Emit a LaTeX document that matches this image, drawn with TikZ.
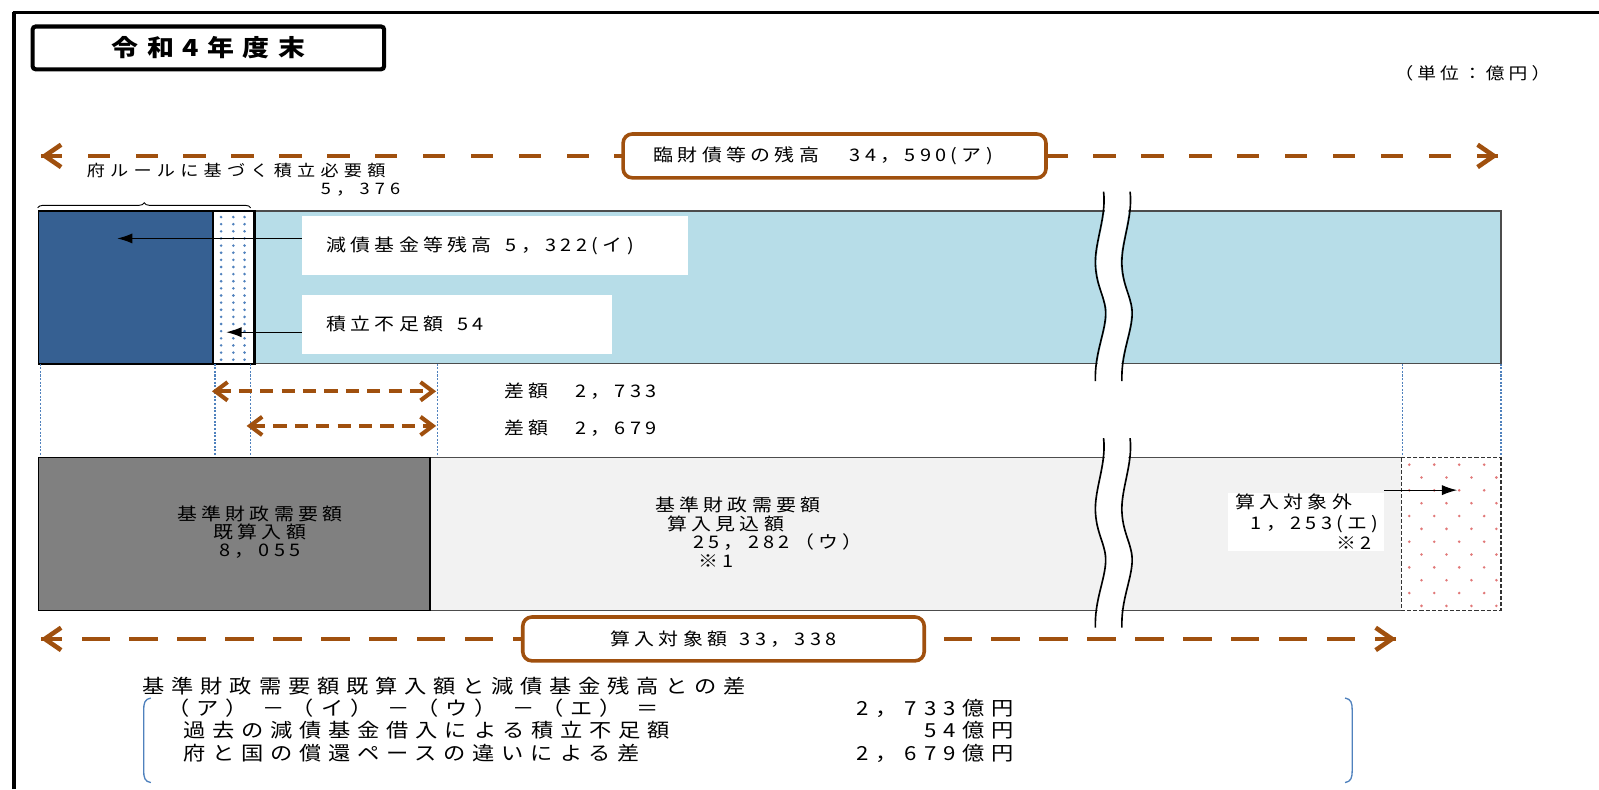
\documentclass[tikz,border=0pt]{standalone}
\usepackage{fontspec}
\setmainfont{Noto Sans CJK JP}[FakeStretch=1.15]
\newfontfamily\lblfont{Noto Sans CJK JP}[FakeStretch=1.15,LetterSpace=25]
\newfontfamily\smlfont{Noto Sans CJK JP}[FakeStretch=1.15,LetterSpace=33]
\newfontfamily\notefont{Noto Sans CJK JP}[FakeStretch=1.15,LetterSpace=35]
\newfontfamily\titlefont{Noto Sans CJK JP}[FakeStretch=1.15,LetterSpace=36]
\usetikzlibrary{arrows.meta,decorations.pathreplacing,positioning}

\definecolor{brn}{RGB}{160,80,14}
\definecolor{dkblue}{RGB}{54,96,146}
\definecolor{ltblue}{RGB}{183,221,232}
\definecolor{dkgray}{RGB}{128,128,128}
\definecolor{ltgray}{RGB}{242,242,242}
\definecolor{dotblue}{RGB}{79,129,189}
\definecolor{dotpink}{RGB}{225,120,120}

\tikzset{
  lbl/.style={inner sep=0pt, font=\lblfont\fontsize{17}{19}\selectfont},
  sml/.style={inner sep=0pt, font=\smlfont\fontsize{15.5}{17}\selectfont},
  note/.style={inner sep=0pt, font=\notefont\fontsize{19}{21}\selectfont},
  brline/.style={draw=brn, line width=4.5pt, dash pattern=on 21pt off 26pt},
  brtip/.style={-{Straight Barb[length=16pt,width=22pt]}},
  brdbl/.style={draw=brn, line width=4pt, dash pattern=on 13pt off 8pt,
    {Straight Barb[length=12pt,width=18pt]}-{Straight Barb[length=12pt,width=18pt]}},
  brbox/.style={draw=brn, line width=3.5pt, rounded corners=9pt, fill=white},
  whitebox/.style={fill=white, inner xsep=24pt, inner ysep=0pt, align=left},
  blkarrow/.style={-{Latex[length=15pt,width=10pt]}, line width=1.2pt},
  guide/.style={draw=dotblue, line width=1.2pt, dash pattern=on 2pt off 1.5pt},
  wave/.pic={
    \draw[pic actions] (3,0) .. controls (6,25) and (-6,50) .. (-5,72)
      .. controls (-4,95) and (6,105) .. (5,122)
      .. controls (4,140) and (-6,160) .. (-5,186);
  },
}

\begin{document}
\begin{tikzpicture}[x=1pt,y=-1pt]
  \useasboundingbox (0,0) rectangle (1569.2,774.3);

  % frame
  \draw[line width=4pt] (14,774.3) -- (14,12);
  \draw[line width=3pt] (12.5,12) -- (1569.2,12);

  % title
  \node[draw, line width=4pt, rounded corners=3pt, minimum width=345pt, minimum height=42pt,
    anchor=north west, font=\titlefont\bfseries\fontsize{23}{25}\selectfont] (title) at (30,24) {令和4年度末};
  \node[inner sep=0pt, font=\lblfont\fontsize{16}{18}\selectfont] (unit) at (1445,72) {（単位：億円）};

  % total balance arrow
  \coordinate (totL) at (40,153);
  \coordinate (totR) at (1470,153);
  \draw[brline, brtip] (totL) -- (totR);
  \draw[brline, brtip] (totR) -- (totL);
  \node[brbox, minimum width=415pt, minimum height=43pt] (total) at (819,153) {};
  \node[lbl] (totaltxt) at (808,153) {臨財債等の残高\hspace{30pt}34，590(ア)};

  % required amount
  \node[sml, anchor=west] (req) at (85,167) {府ルールに基づく積立必要額};
  \node[sml, anchor=east] (reqval) at (393,186) {5，376};
  \draw[decorate, decoration={brace, amplitude=5pt}, line width=0.9pt] (37,204) -- (246,204);

  % upper bar
  \draw[fill=ltblue, draw=black!70, line width=1.2pt] (38,207) rectangle (1473,357);
  \draw[fill=dkblue, line width=1.5pt] (38,207) rectangle (209,357);
  \draw[fill=white, line width=2.5pt] (209,207) rectangle (250,357);
  \foreach \yy in {0,...,20}
    \foreach \xx in {217,229,240}
      \fill[dotblue] (\xx,213+7*\yy) circle (1.4pt);

  \node[whitebox, text width=331pt, minimum height=58pt, anchor=north west] (fund) at (296,212)
    {\lblfont\fontsize{17}{19}\selectfont 減債基金等残高\hspace{14pt}5，322(イ)};
  \node[whitebox, text width=256pt, minimum height=58pt, anchor=north west] (short) at (296,289)
    {\lblfont\fontsize{17}{19}\selectfont 積立不足額\hspace{14pt}54};
  \coordinate (fundtip) at (115,234);
  \coordinate (shorttip) at (222,326);
  \draw[blkarrow] (fund.west |- fundtip) -- (fundtip);
  \draw[blkarrow] (short.west |- shorttip) -- (shorttip);

  % guides
  \foreach \xx in {40,211,246,429,1376,1473}
    \draw[guide] (\xx,357) -- (\xx,449);

  % differences
  \coordinate (dAL) at (208,384);
  \coordinate (dAR) at (428,384);
  \coordinate (dBL) at (242,418);
  \coordinate (dBR) at (428,418);
  \draw[brdbl] (dAL) -- (dAR);
  \draw[brdbl] (dBL) -- (dBR);
  \node[lbl, anchor=west] (diffA) at (495,384) {差額\hspace{26pt}2，733};
  \node[lbl, anchor=west] (diffB) at (495,420) {差額\hspace{26pt}2，679};

  % lower bar
  \draw[fill=ltgray, draw=black!70, line width=1.2pt] (38,449) rectangle (1375,599);
  \draw[fill=dkgray, line width=1.2pt] (38,449) rectangle (422,599);
  \draw[fill=white, draw=black!80, line width=1.2pt, dash pattern=on 4pt off 2pt] (1375,449) rectangle (1473,599);
  \foreach \yy in {0,...,11}
    \foreach \xx in {0,...,3}
      \fill[dotpink] ({1383+24.5*\xx+12*mod(\yy,2)},{456+12.6*\yy}) circle (1.4pt);

  \node[lbl, align=center, font=\lblfont\fontsize{17}{17.5}\selectfont] (done) at (255,522)
    {基準財政需要額\\既算入額\\8，055};
  \node[lbl] (est1) at (724,495) {基準財政需要額};
  \node[lbl] (est2) at (712,514) {算入見込額};
  \node[lbl, anchor=west] (est3) at (680,532) {25，282（ウ）};
  \node[lbl, anchor=west] (est4) at (685,551) {※1};

  \node[fill=white, inner sep=0pt, minimum width=153pt, minimum height=57pt, anchor=north west] (outbox) at (1205,484) {};
  \node[lbl, anchor=east] (out1) at (1327,493) {算入対象外};
  \node[lbl, anchor=east] (out2) at (1353,514) {1，253(エ)};
  \node[lbl, anchor=east] (out3) at (1346,533) {※2};
  \coordinate (outtip) at (1430,481);
  \draw[blkarrow] (outbox.north east |- outtip) -- (outtip);

  % breaks
  \foreach \yy in {188,430} {
    \pic[draw=white, line width=23pt] at (1093,\yy) {wave};
    \pic[line width=1.6pt] at (1080,\yy) {wave};
    \pic[line width=1.6pt] at (1106,\yy) {wave};
  }

  % counted amount arrow
  \coordinate (cntL) at (40,627);
  \coordinate (cntR) at (1370,627);
  \draw[brline, brtip] (cntL) -- (cntR);
  \draw[brline, brtip] (cntR) -- (cntL);
  \node[brbox, minimum width=394pt, minimum height=43pt] (count) at (710,627) {};
  \node[lbl] (counttxt) at (count) {算入対象額\hspace{12pt}33，338};

  % summary
  \node[note, anchor=west] (sumhead) at (140,673) {基準財政需要額既算入額と減債基金残高との差};
  \node[note, anchor=west] (sum1) at (164,695)
    {（ア）\hspace{15pt}－（イ）\hspace{15pt}－（ウ）\hspace{15pt}－（エ）\hspace{15pt}＝};
  \node[note, anchor=west] (sum2) at (180,717) {過去の減債基金借入による積立不足額};
  \node[note, anchor=west] (sum3) at (180,739) {府と国の償還ペースの違いによる差};
  \node[note, anchor=east] (val1) at (995,695) {2，733億円};
  \node[note, anchor=east] (val2) at (995,717) {54億円};
  \node[note, anchor=east] (val3) at (995,739) {2，679億円};
  \draw[dotblue, line width=1.3pt] (148,685) .. controls (142,686) and (141,690) .. (141,697)
    -- (141,756) .. controls (141,763) and (142,767) .. (148,768);
  \draw[dotblue, line width=1.3pt] (1320,685) .. controls (1326,686) and (1327,690) .. (1327,697)
    -- (1327,756) .. controls (1327,763) and (1326,767) .. (1320,768);
\end{tikzpicture}
\end{document}
